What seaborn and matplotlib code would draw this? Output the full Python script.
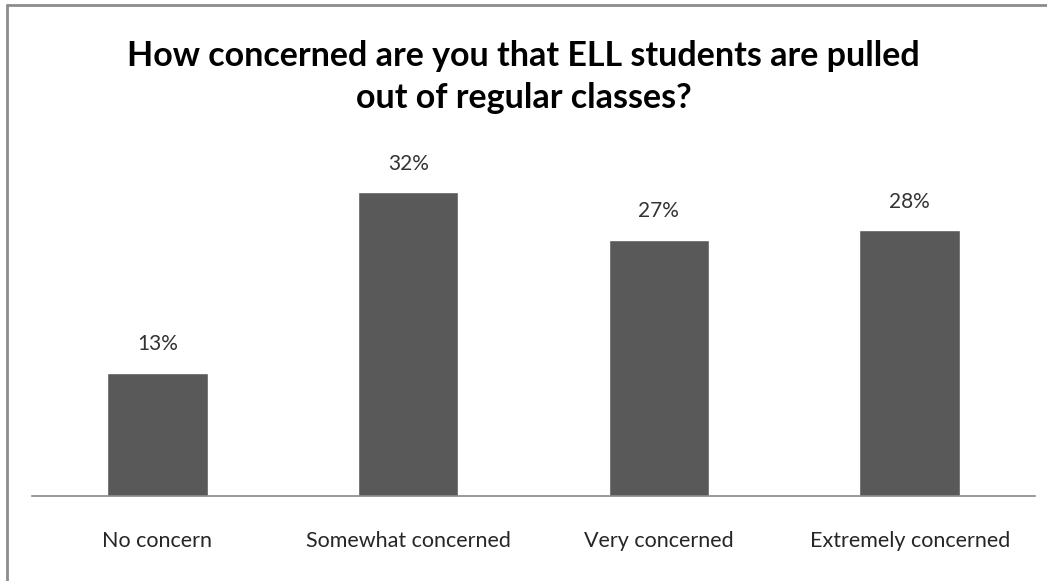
import matplotlib
matplotlib.use("Agg")
import matplotlib.pyplot as plt
import matplotlib.lines as mlines
import pandas as pd
import seaborn as sns

categories = ["No concern", "Somewhat concerned", "Very concerned", "Extremely concerned"]
percents = [13, 32, 27, 28]
title = "How concerned are you that ELL students are pulled\nout of regular classes?"

df = pd.DataFrame({"response": categories, "pct": percents})

sns.set_theme(style="white")
plt.rcParams['font.family'] = ['Lato', 'DejaVu Sans']

W, H = 1047, 581
fig = plt.figure(figsize=(W / 100, H / 100), dpi=100)
# axes placed in pixel terms: x 32..1035, zero line at y=496
ax = fig.add_axes([32 / W, 85 / H, 1003 / W, (496 - 163.5) / H])

sns.barplot(data=df, x="response", y="pct", color="#595959", width=0.4,
            saturation=1, ax=ax)
ax.set_xlim(-0.5, 3.5)
ax.set_ylim(0, 35)

for container in ax.containers:
    ax.bar_label(container, labels=[f"{v}%" for v in percents], padding=13,
                 fontsize=15, color="#333333")

ax.set_xlabel("")
ax.set_ylabel("")
ax.set_yticks([])
ax.tick_params(axis="x", length=0, pad=25, labelsize=15.5, labelcolor="#262626")
for s in ["top", "right", "left"]:
    ax.spines[s].set_visible(False)
ax.spines["bottom"].set_color("#888888")
ax.spines["bottom"].set_linewidth(1.2)

fig.text(0.5, 1 - 77 / H, title, ha="center", va="center", fontsize=24.5,
         fontweight="bold", color="black", linespacing=1.4)

# chart frame (left and top edges visible in the crop)
fig.add_artist(mlines.Line2D([7 / W, 7 / W], [0, 1 - 5 / H], transform=fig.transFigure,
                             color="#8c8c8c", linewidth=2))
fig.add_artist(mlines.Line2D([7 / W, 1], [1 - 5 / H, 1 - 5 / H], transform=fig.transFigure,
                             color="#8c8c8c", linewidth=2))

fig.savefig("out.png", dpi=100)
